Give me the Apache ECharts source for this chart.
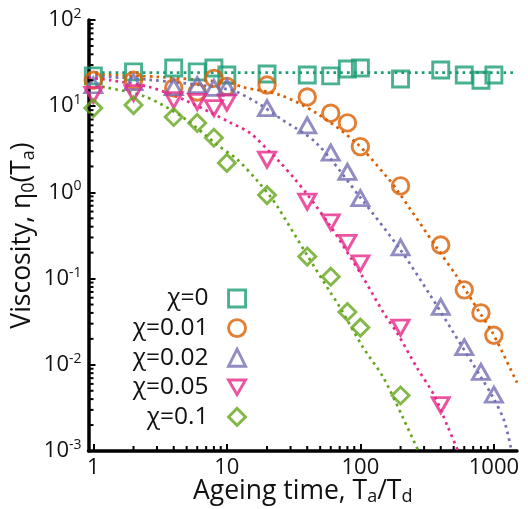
<!DOCTYPE html>
<html>
<head>
<meta charset="utf-8">
<title>viscosity vs ageing time</title>
<script src="https://cdn.jsdelivr.net/npm/echarts@6/dist/echarts.min.js"></script>
<style>
html, body { margin: 0; padding: 0; background: #fff; }
#chart { width: 528px; height: 509px; }
</style>
</head>
<body>
<div id="chart"></div>
<script>
// measured points, ageing time Ta/Td
var ageT = [1, 2, 4, 6, 8, 10, 20, 40, 60, 80, 100, 200, 400, 600, 800, 1000];
var ageT005 = [1, 2, 4, 6, 8, 10, 20, 40, 60, 80, 100, 200, 400];
var ageT01 = [1, 2, 4, 6, 8, 10, 20, 40, 60, 80, 100, 200];

// viscosity eta0(Ta)
var eta0 = [22.5, 25, 27.7, 25, 27.7, 23, 23.6, 23, 22.5, 27, 27.7, 20.7, 26.3, 23, 20, 23];
var eta001 = [20, 20, 16.3, 14.6, 21, 17, 17.6, 12.8, 8.3, 6.4, 3.4, 1.19, 0.245, 0.074, 0.040, 0.022];
var eta002 = [17.5, 19, 16.6, 17.6, 16.3, 16.6, 9.5, 6.0, 2.9, 1.73, 0.86, 0.23, 0.047, 0.016, 0.0083, 0.0045];
var eta005 = [13.5, 14.2, 11.8, 11.2, 9.5, 11, 2.4, 0.78, 0.45, 0.26, 0.15, 0.027, 0.0034];
var eta01 = [9.5, 10.3, 7.5, 6.4, 4.3, 2.2, 0.93, 0.18, 0.105, 0.041, 0.027, 0.0044];

// fit curves
var fitT0 = [0.92, 1490];
var fit0 = [24.5, 24.5];
var fitT001 = [0.92, 3, 10.6, 13.2, 25, 47, 94, 158, 188, 380, 530, 785, 980, 1490];
var fit001 = [23.4, 21.9, 18.6, 16.6, 13.5, 8.3, 3.7, 1.51, 1.07, 0.219, 0.105, 0.040, 0.0234, 0.0062];
var fitT002 = [0.92, 2.5, 10.6, 16.8, 25, 47, 100, 198, 333, 495, 800, 985, 1200, 1355];
var fit002 = [22.4, 20.4, 15.5, 11.0, 7.24, 3.72, 0.87, 0.219, 0.0646, 0.024, 0.0072, 0.0042, 0.0022, 0.001];
var fitT005 = [0.92, 1.34, 2.67, 5, 10.6, 14.9, 21, 25, 32, 40, 59, 84, 104, 148, 190, 265, 361, 452, 540];
var fit005 = [21.4, 20, 16.6, 11.5, 6.46, 4.9, 2.95, 2.24, 1.45, 0.95, 0.417, 0.178, 0.105, 0.041, 0.0229, 0.0093, 0.0043, 0.0019, 0.001];
var fitT01 = [0.92, 1.23, 2.45, 4.7, 8.5, 12, 17, 21, 24, 40, 59, 70, 104, 148, 208, 272];
var fit01 = [17.8, 16.6, 12.9, 7.4, 3.55, 2.4, 1.35, 0.91, 0.68, 0.186, 0.071, 0.047, 0.0162, 0.0072, 0.00245, 0.001];

var names = ['χ=0', 'χ=0.01', 'χ=0.02', 'χ=0.05', 'χ=0.1'];
var colors = ['#1b9e77', '#d95f02', '#7570b3', '#e7298a', '#66a61e'];
var xTickVals = [1, 10, 100, 1000];

var FONT = 'Open Sans';
var X_MIN = 0.92, X_MAX = 1490, Y_MIN = 0.001, Y_MAX = 100;
var TRI_DOWN = 'path://M0,0L18,0L9,15.5Z';

function pairs(xs, ys) {
    var out = [];
    for (var i = 0; i < xs.length; i++) out.push([xs[i], ys[i]]);
    return out;
}

// minor tick values 2..9 x 10^k
function minorVals(lo, hi) {
    var out = [];
    for (var k = -4; k <= 4; k++) {
        for (var m = 2; m <= 9; m++) {
            var v = m * Math.pow(10, k);
            if (v > lo && v < hi) out.push(v);
        }
    }
    return out;
}

var series = [];
var markerSets = [
    { x: ageT, y: eta0, symbol: 'rect', size: 16 },
    { x: ageT, y: eta001, symbol: 'circle', size: 16.5 },
    { x: ageT, y: eta002, symbol: 'triangle', size: [17, 15] },
    { x: ageT005, y: eta005, symbol: TRI_DOWN, size: [17, 15] },
    { x: ageT01, y: eta01, symbol: 'diamond', size: 17 }
];
var fitSets = [
    [fitT0, fit0], [fitT001, fit001], [fitT002, fit002], [fitT005, fit005], [fitT01, fit01]
];

for (var i = 0; i < 5; i++) {
    series.push({
        type: 'line',
        data: pairs(fitSets[i][0], fitSets[i][1]),
        smooth: 0.3,
        showSymbol: false,
        symbol: 'none',
        silent: true,
        z: 1,
        lineStyle: { color: colors[i], width: 2.7, type: [2.7, 4.1] }
    });
}
for (var j = 0; j < 5; j++) {
    var ms = markerSets[j];
    series.push({
        name: names[j],
        type: 'scatter',
        data: pairs(ms.x, ms.y),
        symbol: ms.symbol,
        symbolSize: ms.size,
        silent: true,
        z: 3,
        itemStyle: { color: 'rgba(255,255,255,0)', borderColor: colors[j], borderWidth: 2.9 }
    });
}

// minor ticks on both log axes, placed through the axes' own scales
series.push({
    type: 'custom',
    silent: true,
    clip: false,
    z: 5,
    data: minorVals(X_MIN, X_MAX).map(function (v) { return [v, Y_MIN]; }),
    renderItem: function (params, api) {
        var p = api.coord([api.value(0), api.value(1)]);
        return { type: 'line', shape: { x1: p[0], y1: p[1], x2: p[0], y2: p[1] - 5 }, style: { stroke: '#000', lineWidth: 2 } };
    }
});
series.push({
    type: 'custom',
    silent: true,
    clip: false,
    z: 5,
    data: minorVals(Y_MIN, Y_MAX).map(function (v) { return [X_MIN, v]; }),
    renderItem: function (params, api) {
        var p = api.coord([api.value(0), api.value(1)]);
        return { type: 'line', shape: { x1: p[0], y1: p[1], x2: p[0] + 5, y2: p[1] }, style: { stroke: '#000', lineWidth: 2 } };
    }
});

var chart = echarts.init(document.getElementById('chart'), null, { renderer: 'canvas' });
chart.setOption({
    animation: false,
    backgroundColor: '#fff',
    textStyle: { fontFamily: FONT },
    grid: { left: 88.5, right: 11, top: 20, bottom: 58, containLabel: false, outerBoundsMode: 'none' },
    legend: {
        data: names,
        orient: 'vertical',
        align: 'right',
        right: 281,
        top: 286,
        padding: 0,
        itemWidth: 17,
        itemHeight: 17,
        itemGap: 4.6,
        selectedMode: false,
        itemStyle: { borderWidth: 2.9 },
        textStyle: { fontFamily: FONT, fontSize: 24.5, color: '#111', lineHeight: 16, padding: [0, 15, 0, 0] }
    },
    xAxis: {
        type: 'log',
        logBase: 10,
        min: X_MIN,
        max: X_MAX,
        name: 'Ageing time, T{sub|a}/T{sub|d}',
        nameLocation: 'middle',
        nameGap: 25,
        nameMoveOverlap: false,
        nameTextStyle: {
            fontFamily: FONT, fontSize: 26.5, color: '#111', lineHeight: 30, verticalAlign: 'top',
            rich: { sub: { fontFamily: FONT, fontSize: 18, lineHeight: 18, verticalAlign: 'bottom', color: '#111' } }
        },
        axisLine: { show: true, onZero: false, lineStyle: { color: '#000', width: 3.5 } },
        axisTick: { show: true, inside: true, length: 7, lineStyle: { color: '#000', width: 2 } },
        splitLine: { show: false },
        minorTick: { show: false },
        axisLabel: {
            fontFamily: FONT, fontSize: 22, color: '#111', margin: 6,
            showMinLabel: false, showMaxLabel: false,
            formatter: function (v) {
                for (var k = 0; k < xTickVals.length; k++) {
                    if (Math.abs(v - xTickVals[k]) / xTickVals[k] < 1e-6) return String(xTickVals[k]);
                }
                return '';
            }
        }
    },
    yAxis: {
        type: 'log',
        logBase: 10,
        min: Y_MIN,
        max: Y_MAX,
        name: 'Viscosity, η{sub|0}(T{sub|a})',
        nameLocation: 'middle',
        nameRotate: 90,
        nameGap: 51,
        nameMoveOverlap: false,
        nameTextStyle: {
            fontFamily: FONT, fontSize: 26.5, color: '#111', lineHeight: 30,
            rich: { sub: { fontFamily: FONT, fontSize: 18, lineHeight: 18, verticalAlign: 'bottom', color: '#111' } }
        },
        axisLine: { show: true, onZero: false, lineStyle: { color: '#000', width: 3.5 } },
        axisTick: { show: true, inside: true, length: 7, lineStyle: { color: '#000', width: 2 } },
        splitLine: { show: false },
        minorTick: { show: false },
        axisLabel: {
            fontFamily: FONT, fontSize: 22, color: '#111', margin: 7, lineHeight: 26,
            formatter: function (v) {
                var e = Math.round(Math.log(v) / Math.LN10);
                return '10{sup|' + e + '}';
            },
            rich: { sup: { fontFamily: FONT, fontSize: 14, lineHeight: 14, verticalAlign: 'top', color: '#111' } }
        }
    },
    series: series
});
</script>
</body>
</html>
